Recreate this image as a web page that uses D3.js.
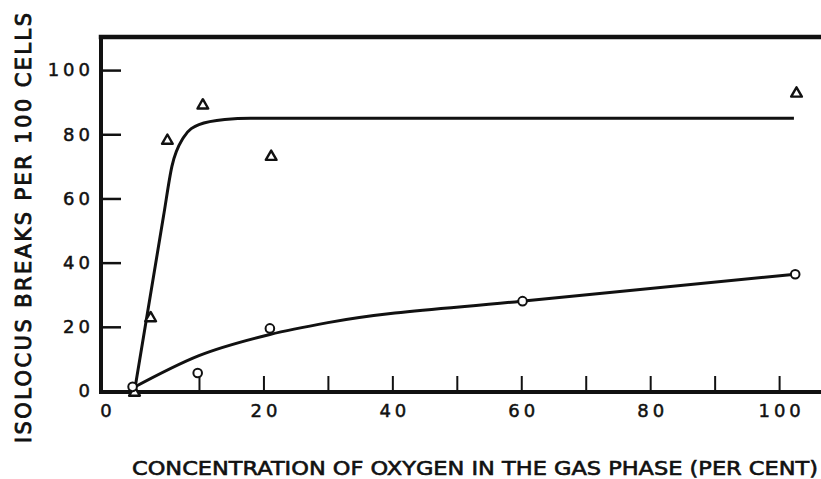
<!DOCTYPE html>
<html>
<head>
<meta charset="utf-8">
<script src="https://cdn.jsdelivr.net/npm/d3@7"></script>
<style>
	body { margin: 0; background: #fff; }
	svg { display: block; }
	.tickLabel text { font-family: "DejaVu Sans", sans-serif; font-size: 18px; letter-spacing: 4px; fill: #111; stroke: #111; stroke-width: 0.5px; }
	.axisTitle { font-family: "DejaVu Sans", sans-serif; fill: #111; stroke: #111; stroke-width: 0.6px; }
</style>
</head>
<body>
<script>

// triangles (isolocus breaks, one series)
var triX = [0, 2.5, 5.1, 10.6, 21.2, 102.7];
var triY = [-0.5, 22.7, 78, 89, 73, 92.7];

// circles (other series)
var circX = [-0.3, 9.8, 21, 60.2, 102.5];
var circY = [1.3, 5.6, 19.5, 28, 36.4];

// hand drawn curves
var triCurveX = [0, 4.5, 5.8, 7.6, 10, 14, 18, 102.3];
var triCurveY = [0, 54.5, 70, 79, 83, 84.6, 85, 85];
var circCurveX = [-0.2, 10, 21, 30, 60, 102.5];
var circCurveY = [1, 11, 17.6, 21.3, 28, 36.4];

// ticks and labels
var xTicks = [10, 20, 30, 40, 50, 60, 70, 80, 90, 100];
var xLabels = [0, 20, 40, 60, 80, 100];
var yTicks = [0, 20, 40, 60, 80, 100];

var w = 821;
var h = 479;

var svg = d3.select("body")
	.append("svg")
	.attr("width", w)
	.attr("height", h);

// scales
var x = d3.scaleLinear()
	.domain([-5.2, 106.5])
	.range([101, 821]);
var y = d3.scaleLinear()
	.domain([0, 110])
	.range([391, 38]);

// x tick marks pointing up
svg.append("g")
	.attr("transform", "translate(0," + y(0) + ")")
	.call(d3.axisBottom(x).tickValues(xTicks).tickSize(-15).tickSizeOuter(0).tickFormat(""))
	.call(function(g) { g.select(".domain").remove(); })
	.selectAll("line")
	.attr("stroke", "#111")
	.attr("stroke-width", 2);

// x tick labels
var xLab = svg.append("g")
	.attr("class", "tickLabel")
	.attr("transform", "translate(0," + y(0) + ")")
	.call(d3.axisBottom(x).tickValues(xLabels).tickSize(0).tickPadding(13))
	.call(function(g) { g.select(".domain").remove(); });
xLab.selectAll("text").attr("dx", "2px");
// the zero label sits at the corner of the frame in the original
xLab.selectAll(".tick")
	.filter(function(d) { return d === 0; })
	.attr("transform", "translate(" + (x.range()[0] + 5) + ",0)");

// y ticks pointing inwards, labels outside
svg.append("g")
	.attr("class", "tickLabel")
	.attr("transform", "translate(" + x.range()[0] + ",0)")
	.call(d3.axisLeft(y).tickValues(yTicks).tickSize(-20).tickPadding(11))
	.call(function(g) { g.select(".domain").remove(); })
	.call(function(g) {
		g.selectAll("line").attr("stroke", "#111").attr("stroke-width", 2.5);
		g.selectAll("text").attr("dx", "4px");
	});

// frame: left, bottom and top lines (no right side)
var frame = svg.append("g")
	.attr("stroke", "#111")
	.attr("stroke-width", 4)
	.attr("stroke-linecap", "square");
frame.append("line")
	.attr("x1", x.range()[0]).attr("x2", x.range()[0])
	.attr("y1", y.range()[1]).attr("y2", y(0));
frame.append("line")
	.attr("x1", x.range()[0]).attr("x2", x.range()[1])
	.attr("y1", y(0) + 1).attr("y2", y(0) + 1);
frame.append("line")
	.attr("x1", x.range()[0]).attr("x2", x.range()[1])
	.attr("y1", y.range()[1] - 1).attr("y2", y.range()[1] - 1)
	.attr("stroke-width", 4.5);

// curves
var line = d3.line()
	.x(function(d) { return x(d[0]); })
	.y(function(d) { return y(d[1]); })
	.curve(d3.curveMonotoneX);

svg.append("path")
	.datum(d3.zip(triCurveX, triCurveY))
	.attr("d", line)
	.attr("fill", "none")
	.attr("stroke", "#111")
	.attr("stroke-width", 3);

svg.append("path")
	.datum(d3.zip(circCurveX, circCurveY))
	.attr("d", line)
	.attr("fill", "none")
	.attr("stroke", "#111")
	.attr("stroke-width", 3);

// triangles
svg.selectAll(".tri")
	.data(d3.zip(triX, triY))
	.enter()
	.append("path")
	.attr("class", "tri")
	.attr("d", d3.symbol().type(d3.symbolTriangle).size(50))
	.attr("transform", function(d) { return "translate(" + x(d[0]) + "," + y(d[1]) + ")"; })
	.attr("fill", "#fff")
	.attr("stroke", "#111")
	.attr("stroke-width", 2.4)
	.attr("stroke-linejoin", "round");

// circles
svg.selectAll(".circ")
	.data(d3.zip(circX, circY))
	.enter()
	.append("circle")
	.attr("class", "circ")
	.attr("cx", function(d) { return x(d[0]); })
	.attr("cy", function(d) { return y(d[1]); })
	.attr("r", 4.3)
	.attr("fill", "#fff")
	.attr("stroke", "#111")
	.attr("stroke-width", 2);

// axis titles
svg.append("text")
	.attr("class", "axisTitle")
	.attr("x", 132)
	.attr("y", 475)
	.attr("textLength", 686)
	.attr("lengthAdjust", "spacingAndGlyphs")
	.style("font-size", "19px")
	.text("CONCENTRATION OF OXYGEN IN THE GAS PHASE (PER CENT)");

svg.append("text")
	.attr("class", "axisTitle")
	.attr("transform", "translate(31,443) rotate(-90)")
	.attr("textLength", 430)
	.attr("lengthAdjust", "spacing")
	.style("font-size", "21px")
	.style("stroke-width", "0.9px")
	.text("ISOLOCUS BREAKS PER 100 CELLS");

</script>
</body>
</html>
